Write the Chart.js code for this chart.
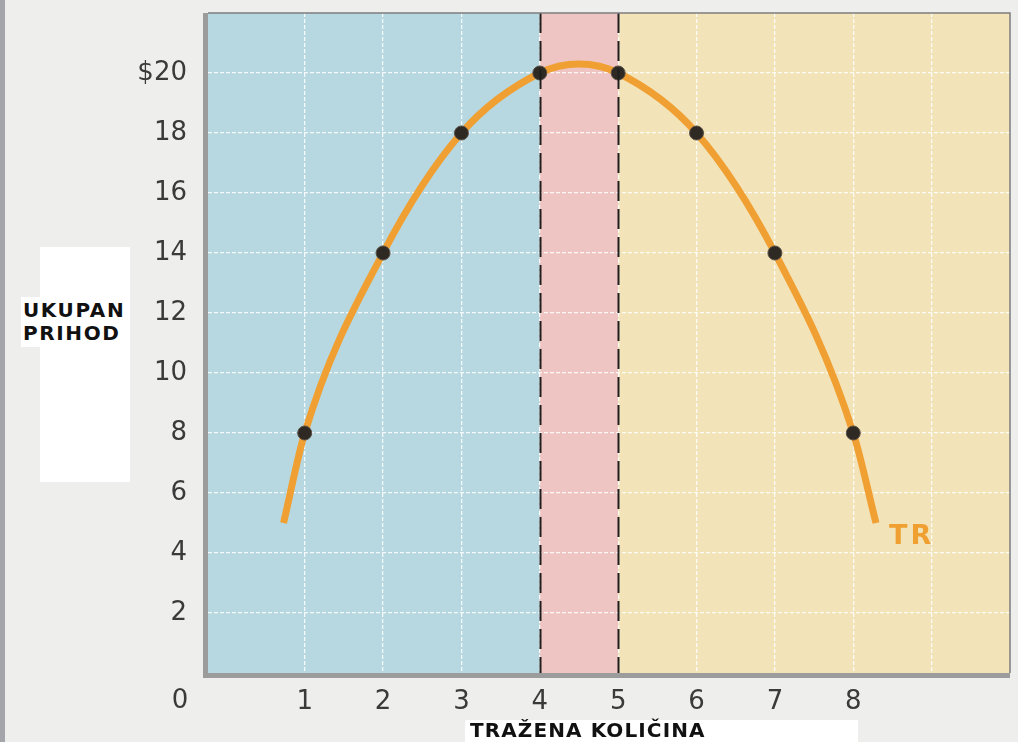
<!DOCTYPE html>
<html>
<head>
<meta charset="utf-8">
<script src="https://cdn.jsdelivr.net/npm/chart.js@4/dist/chart.umd.min.js"></script>
<style>
  html, body { margin: 0; padding: 0; }
  body { width: 1018px; height: 742px; background: #eeeeec; position: relative; overflow: hidden; }
  #edge { position: absolute; left: 0; top: 0; width: 5px; height: 742px; background: #a3a5ab; }
  #myChart { position: absolute; left: 0; top: 0; }
  .box { position: absolute; background: #fff; }
  .lbl { position: absolute; font-family: "DejaVu Sans", sans-serif; font-weight: bold; color: #111; white-space: nowrap; }
</style>
</head>
<body>
<div id="edge"></div>
<canvas id="myChart" width="1018" height="742"></canvas>

<!-- naslov y osi -->
<div class="box" style="left:40px; top:247px; width:90px; height:235px;"></div>
<div class="box" style="left:21px; top:297px; width:109px; height:50px;"></div>
<div class="lbl" style="left:23px; top:299px; font-size:20px; line-height:23px; letter-spacing:1.6px;">UKUPAN<br>PRIHOD</div>

<!-- naslov x osi -->
<div class="box" style="left:465px; top:720px; width:393px; height:22px;"></div>
<div class="lbl" style="left:470px; top:719px; font-size:20px; line-height:22px; letter-spacing:1.1px;">TRAŽENA KOLIČINA</div>

<script>
// Podaci (očitani sa slike)
const quantity = [1, 2, 3, 4, 5, 6, 7, 8];
const totalRevenue = [8, 14, 18, 20, 20, 18, 14, 8];
// krajevi krive TR i vrh krive (bez tačaka)
const curveEndsQ = [0.73, 8.29];
const curveEndsTR = [5, 5];
const curvePeakQ = 4.5;
const curvePeakTR = 20.3;
const xTicks = [1, 2, 3, 4, 5, 6, 7, 8, 9];
const yTicks = [2, 4, 6, 8, 10, 12, 14, 16, 18, 20];
// granice obojenih zona
const zoneBounds = [4, 5];

const tickFont = { family: 'DejaVu Sans', size: 26 };

const dotPts = quantity.map((q, i) => ({ x: q, y: totalRevenue[i] }));
const curvePts = [{ x: curveEndsQ[0], y: curveEndsTR[0] }]
    .concat(dotPts)
    .concat([{ x: curvePeakQ, y: curvePeakTR }, { x: curveEndsQ[1], y: curveEndsTR[1] }])
    .sort((a, b) => a.x - b.x);

// pozadina, isprekidane linije i okvir
const zonesPlugin = {
    id: 'zones',
    beforeDraw(chart) {
        const { ctx, chartArea: a, scales } = chart;
        const x4 = scales.x.getPixelForValue(zoneBounds[0]);
        const x5 = scales.x.getPixelForValue(zoneBounds[1]);
        ctx.save();
        ctx.fillStyle = '#b7d8e0';
        ctx.fillRect(a.left, a.top, x4 - a.left, a.bottom - a.top);
        ctx.fillStyle = '#efc5c3';
        ctx.fillRect(x4, a.top, x5 - x4, a.bottom - a.top);
        ctx.fillStyle = '#f2e3b8';
        ctx.fillRect(x5, a.top, a.right - x5, a.bottom - a.top);
        ctx.restore();
    },
    afterDatasetsDraw(chart) {
        const { ctx, chartArea: a, scales } = chart;
        ctx.save();
        ctx.strokeStyle = '#1e1e1e';
        ctx.lineWidth = 2;
        ctx.setLineDash([20, 8]);
        zoneBounds.forEach(v => {
            const px = Math.round(scales.x.getPixelForValue(v)) + 0.5;
            ctx.beginPath();
            ctx.moveTo(px, a.top);
            ctx.lineTo(px, a.bottom);
            ctx.stroke();
        });
        ctx.restore();
    },
    afterDraw(chart) {
        const { ctx, chartArea: a } = chart;
        ctx.save();
        // deblji sivi okvir levo i dole
        ctx.fillStyle = '#9c9c9c';
        ctx.fillRect(a.left - 5, a.top, 5, a.bottom - a.top + 5);
        ctx.fillRect(a.left - 5, a.bottom, a.right - a.left + 5, 5);
        // tanke linije gore i desno
        ctx.strokeStyle = '#7d7d7d';
        ctx.lineWidth = 1.5;
        ctx.beginPath();
        ctx.moveTo(a.left, a.top);
        ctx.lineTo(a.right, a.top);
        ctx.lineTo(a.right, a.bottom);
        ctx.stroke();
        // oznaka 0 u uglu
        ctx.fillStyle = '#3a3a3a';
        ctx.font = '26px "DejaVu Sans"';
        ctx.textAlign = 'center';
        ctx.textBaseline = 'middle';
        ctx.fillText('0', a.left - 28, a.bottom + 28);
        // oznaka TR
        ctx.fillStyle = '#f0a030';
        ctx.font = 'bold 27px "DejaVu Sans"';
        ctx.textAlign = 'left';
        ctx.letterSpacing = '3px';
        ctx.fillText('TR', chart.scales.x.getPixelForValue(curveEndsQ[1]) + 13, chart.scales.y.getPixelForValue(curveEndsTR[1]) + 14);
        ctx.restore();
    }
};

const config = {
    type: 'scatter',
    data: {
        datasets: [
            {
                type: 'line',
                label: 'TR',
                data: curvePts,
                borderColor: '#f0a032',
                borderWidth: 7,
                borderCapStyle: 'butt',
                cubicInterpolationMode: 'monotone',
                pointRadius: 0,
                fill: false,
                order: 2
            },
            {
                label: 'tačke',
                data: dotPts,
                backgroundColor: '#2e2923',
                borderColor: '#5a5046',
                borderWidth: 1,
                pointRadius: 7,
                order: 1
            }
        ]
    },
    options: {
        responsive: false,
        animation: false,
        devicePixelRatio: 1,
        layout: { padding: { top: 13, right: 6, left: 0, bottom: 0 } },
        plugins: { legend: { display: false }, tooltip: { enabled: false } },
        scales: {
            x: {
                type: 'linear',
                min: -0.234,
                max: 10,
                afterBuildTicks: s => { s.ticks = xTicks.map(v => ({ value: v })); },
                afterFit: s => { s.height = 69; s.paddingLeft = 0; s.paddingRight = 0; },
                border: { display: false, dash: [4, 2] },
                grid: { color: 'rgba(255,255,255,0.85)', lineWidth: 1.3, drawTicks: false },
                ticks: {
                    font: tickFont,
                    color: '#3a3a3a',
                    padding: 14,
                    maxRotation: 0,
                    autoSkip: false,
                    callback: v => (v <= 8 ? String(v) : '')
                }
            },
            y: {
                min: 0,
                max: 22,
                afterBuildTicks: s => { s.ticks = yTicks.map(v => ({ value: v })); },
                afterFit: s => { s.width = 208; s.paddingTop = 0; s.paddingBottom = 0; },
                border: { display: false, dash: [4, 2] },
                grid: { color: 'rgba(255,255,255,0.85)', lineWidth: 1.3, drawTicks: false },
                ticks: {
                    font: tickFont,
                    color: '#3a3a3a',
                    padding: 21,
                    autoSkip: false,
                    callback: v => (v === 20 ? '$20' : String(v))
                }
            }
        }
    },
    plugins: [zonesPlugin]
};

var myChart = new Chart(document.getElementById('myChart'), config);
</script>
</body>
</html>
